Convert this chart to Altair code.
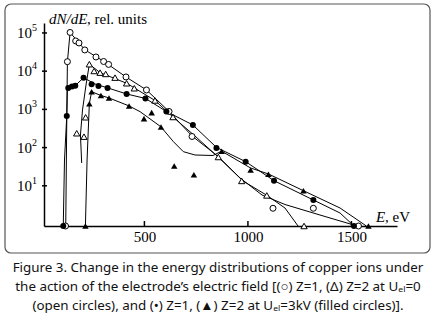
import altair as alt
import pandas as pd

# ---- scale ranges ----
E_MIN, E_MAX = 15, 1720
Y_MIN, Y_MAX = 0.887, 182000

# ---- measured points ----
# open circles: Z=1, U_el=0
oc_E = [119, 128, 141, 168, 184, 212, 266, 303, 327, 411, 510, 619, 730, 1121, 1316, 1534]
oc_y = [0.887, 17700, 103000, 61700, 54700, 35900, 23500, 17900, 15000, 7050, 3220, 881, 195, 2.58, 2.58, 0.887]
# open triangles: Z=2, U_el=0
ot_E = [173, 208, 216, 234, 257, 286, 313, 358, 414, 451, 551, 638, 857, 970, 1091, 1271]
ot_y = [237, 193, 621, 15200, 10100, 9140, 8450, 6760, 4820, 3570, 1710, 631, 56.7, 13.4, 5.6, 0.887]
# filled circles: Z=1, U_el=3kV
fc_E = [108, 125, 132, 150, 166, 206, 245, 278, 322, 414, 505, 606, 734, 848, 989, 1126, 1316, 1512]
fc_y = [0.887, 672, 3630, 3980, 4170, 6760, 4540, 4100, 3630, 2530, 1930, 881, 391, 97.7, 42.8, 13.6, 4.25, 0.887]
# filled triangles: Z=2, U_el=3kV
ft_E = [215, 234, 245, 290, 329, 426, 498, 535, 580, 644, 739, 873, 1013, 1099, 1268, 1582]
ft_y = [0.887, 1400, 2900, 2310, 1990, 1230, 571, 820, 346, 33, 19.5, 80.5, 25.9, 20.1, 7.44, 0.887]

# ---- hand-drawn curves (vertices) ----
ca_E = [120, 124, 128, 141, 184, 213, 305, 411, 510, 619, 730, 856, 962, 1068, 1179, 1348, 1503, 1522]
ca_y = [0.887, 158, 17400, 103000, 54700, 35900, 17900, 7050, 3220, 881, 201, 58.5, 16, 5.74, 3.24, 1.72, 0.97, 0.887]
cb_E = [197, 191, 201, 218, 234, 286, 414, 551, 638, 744, 856, 976, 1092, 1179, 1242]
cb_y = [39.5, 214, 964, 4360, 15200, 9140, 4820, 1710, 631, 201, 56.7, 13.4, 5.6, 2.62, 0.887]
cc_E = [108, 114, 125, 128, 166, 206, 261, 324, 414, 505, 606, 734, 848, 989, 1126, 1316, 1445, 1512]
cc_y = [0.887, 47.3, 672, 3630, 4170, 6760, 4620, 3630, 2530, 1930, 881, 391, 101, 42.8, 13.6, 4.25, 1.94, 0.887]
cd_E = [215, 223, 234, 245, 290, 329, 426, 479, 579, 640, 688, 744, 831, 873, 1013, 1099, 1268, 1445, 1572]
cd_y = [0.887, 47.3, 1400, 2900, 2310, 1990, 1230, 871, 352, 143, 78.2, 64, 62, 80.5, 29.2, 20.4, 7.44, 2.62, 0.887]

# ---- axis ticks / labels ----
x_ticks = [500, 1000, 1500]
y_ticks = [10, 100, 1000, 10000, 100000]
y_base = ["10", "10", "10", "10", "10"]
y_exp = ["1", "2", "3", "4", "5"]

y_title_italic = "dN/dE"
y_title_rest = ", rel. units"
x_title_italic = "E"
x_title_rest = ", eV"

caption = [
    "Figure 3. Change in the energy distributions of copper ions under",
    "the action of the electrode\u2019s electric field [(\u25cb) Z=1, (\u0394) Z=2 at U\u2091\u2097=0",
    "(open circles), and (\u2022) Z=1, (\u25b2) Z=2 at U\u2091\u2097=3kV (filled circles)].",
]

W, H = 353, 203
SERIF = "Liberation Serif"

xs = alt.Scale(domain=[E_MIN, E_MAX], nice=False, zero=False)
ys = alt.Scale(type="log", domain=[Y_MIN, Y_MAX], nice=False)
x_axis = alt.Axis(values=x_ticks, title=None, ticks=False, tickSize=0, grid=False, format="d",
                  labelFont=SERIF, labelFontSize=15, labelColor="black", labelPadding=3,
                  domainColor="black", domainWidth=1.5, labelFlush=False)
y_axis = alt.Axis(values=y_ticks, title=None, ticks=False, tickSize=0, labels=False, grid=False,
                  domainColor="black", domainWidth=1.5)


def pts(E, y):
    return pd.DataFrame({"E": E, "y": y})


def crv(E, y):
    return pd.DataFrame({"E": E, "y": y, "i": list(range(len(E)))})


enc_xy = dict(x=alt.X("E:Q", scale=xs, axis=x_axis), y=alt.Y("y:Q", scale=ys, axis=y_axis))

frame = alt.Chart(pd.DataFrame({"a": [0]})).mark_rect(
    cornerRadius=6, fillOpacity=0, stroke="#555", strokeWidth=1.2
).encode(x=alt.value(-39), x2=alt.value(386), y=alt.value(-19), y2=alt.value(230))

curves = []
for E, y in [(ca_E, ca_y), (cb_E, cb_y), (cc_E, cc_y), (cd_E, cd_y)]:
    curves.append(
        alt.Chart(crv(E, y)).mark_line(color="black", strokeWidth=1, interpolate="linear")
        .encode(order="i:Q", **enc_xy)
    )

MS = 36
p_oc = alt.Chart(pts(oc_E, oc_y)).mark_point(shape="circle", size=MS, filled=True, fill="white",
                                              stroke="black", strokeWidth=1, opacity=1).encode(**enc_xy)
p_ot = alt.Chart(pts(ot_E, ot_y)).mark_point(shape="triangle-up", size=MS + 4, filled=True, fill="white",
                                              stroke="black", strokeWidth=1, opacity=1).encode(**enc_xy)
p_fc = alt.Chart(pts(fc_E, fc_y)).mark_point(shape="circle", size=MS, filled=True, fill="black",
                                              opacity=1).encode(**enc_xy)
p_ft = alt.Chart(pts(ft_E, ft_y)).mark_point(shape="triangle-up", size=MS + 6, filled=True, fill="black",
                                              opacity=1).encode(**enc_xy)

tick_df = pd.DataFrame({"E": x_ticks})
xt = alt.Chart(tick_df).mark_rule(color="black", strokeWidth=1.5).encode(
    x=alt.X("E:Q", scale=xs, axis=x_axis), y=alt.value(H - 5), y2=alt.value(H))
ytick_df = pd.DataFrame({"y": y_ticks, "b": y_base, "e": y_exp})
yt = alt.Chart(ytick_df).mark_rule(color="black", strokeWidth=1.5).encode(
    y=alt.Y("y:Q", scale=ys, axis=y_axis), x=alt.value(-2), x2=alt.value(3))
yl_b = alt.Chart(ytick_df).mark_text(font=SERIF, fontSize=15, align="right", baseline="middle",
                                     color="black").encode(
    y=alt.Y("y:Q", scale=ys, axis=y_axis), x=alt.value(-12), text="b:N")
yl_e = alt.Chart(ytick_df).mark_text(font=SERIF, fontSize=10, align="left", baseline="middle",
                                     color="black", dy=-5).encode(
    y=alt.Y("y:Q", scale=ys, axis=y_axis), x=alt.value(-12), text="e:N")

one = pd.DataFrame({"a": [0]})


def label(txt, x, y, **kw):
    return alt.Chart(one).mark_text(text=txt, align="left", baseline="alphabetic", color="black", **kw).encode(
        x=alt.value(x), y=alt.value(y))


yt1 = label(y_title_italic, 5, 1, font=SERIF, fontSize=15, fontStyle="italic")
yt2 = label(y_title_rest, 43, 1, font=SERIF, fontSize=15)
xt1 = label(x_title_italic, 332, 199, font=SERIF, fontSize=15, fontStyle="italic")
xt2 = label(x_title_rest, 341, 199, font=SERIF, fontSize=15)

cap_layers = []
for k, line in enumerate(caption):
    cap_layers.append(
        alt.Chart(one).mark_text(text=line, align="center", baseline="middle", font="Noto Sans",
                                 fontSize=13.4, color="#111").encode(x=alt.value(174), y=alt.value(245 + 19 * k))
    )

chart = alt.layer(
    frame, *curves, p_oc, p_ot, p_fc, p_ft, xt, yt, yl_b, yl_e, yt1, yt2, xt1, xt2, *cap_layers
).properties(
    width=W, height=H,
    padding={"left": 44, "top": 23, "right": 39, "bottom": 95},
    autosize=alt.AutoSizeParams(type="none"),
    background="white",
).configure_view(stroke=None)

chart.save("out.html", embed_options={"renderer": "svg", "actions": False})
